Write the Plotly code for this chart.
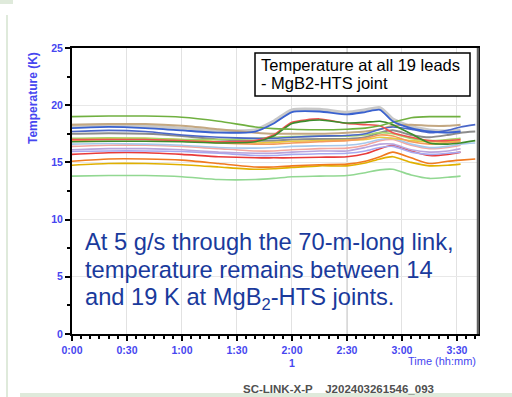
import plotly.graph_objects as go

# time in minutes
t = [0, 20, 40, 60, 80, 100, 110, 120, 135, 150, 160, 168, 175, 185, 195, 205, 212, 220]

s_gray_shadow = [18.2, 18.25, 18.2, 17.95, 17.75, 17.8, 18.55, 19.55, 19.6, 19.35, 19.55, 19.75, 18.75, 18.1, 17.8, 17.7, 17.8, None]
s_green_top = [19.0, 19.05, 19.05, 18.95, 18.6, 18.1, 17.95, 17.9, 17.85, 17.9, 18.0, 18.2, 18.5, 18.9, 19.0, 19.0, 19.0, None]
s_blue_peak = [18.0, 18.1, 18.0, 17.8, 17.6, 17.7, 18.4, 19.4, 19.45, 19.2, 19.4, 19.6, 18.6, 18.0, 17.7, 17.6, 17.7, None]
s_dark_green = [16.8, 16.85, 16.85, 16.8, 16.7, 16.8, 17.3, 18.4, 18.7, 18.45, 18.5, 18.6, 18.3, 17.5, 16.7, 16.6, 16.7, 16.9]
s_red_upper = [17.0, 17.0, 17.0, 16.9, 16.8, 16.9, 17.4, 18.5, 18.8, 18.4, 18.3, 18.2, 17.6, 17.2, 16.9, 16.9, 17.0, None]
s_olive = [17.1, 17.15, 17.1, 17.0, 17.0, 17.1, 17.2, 17.25, 17.3, 17.3, 17.4, 17.6, 17.5, 17.1, 16.9, 17.0, 17.1, None]
s_blue2 = [17.7, 17.8, 17.7, 17.4, 17.2, 17.1, 17.1, 17.2, 17.3, 17.35, 17.5, 17.9, 18.1, 17.9, 17.6, 17.8, 18.1, 18.3]
s_tan = [18.3, 18.35, 18.35, 18.2, 17.9, 17.6, 17.5, 17.5, 17.5, 17.6, 17.7, 17.9, 18.2, 18.3, 18.2, 18.2, 18.3, None]
s_gray = [17.5, 17.55, 17.5, 17.3, 17.0, 16.9, 16.9, 17.0, 17.05, 17.05, 17.2, 17.6, 17.8, 17.4, 17.2, 17.4, 17.6, 17.7]
s_orange_upper = [16.9, 17.0, 17.0, 16.9, 16.7, 16.6, 16.6, 16.7, 16.8, 16.9, 17.1, 17.4, 17.3, 16.8, 16.6, 16.7, 16.8, None]
s_yellow_upper = [17.05, 17.1, 17.1, 17.0, 16.8, 16.7, 16.75, 16.85, 16.9, 16.95, 17.0, 17.2, 17.1, 16.9, 16.8, 16.8, 16.9, None]
s_light_blue = [16.6, 16.65, 16.6, 16.5, 16.3, 16.25, 16.3, 16.4, 16.45, 16.5, 16.7, 17.0, 17.1, 16.6, 16.3, 16.4, 16.6, 16.7]
s_pink = [16.4, 16.5, 16.5, 16.4, 16.2, 16.0, 16.0, 16.1, 16.2, 16.25, 16.5, 16.9, 17.0, 16.5, 16.2, 16.3, 16.5, None]
s_lavender = [16.1, 16.2, 16.2, 16.1, 15.9, 15.8, 15.8, 15.9, 16.0, 16.0, 16.3, 16.6, 16.6, 16.1, 15.9, 16.0, 16.2, None]
s_light_purple = [15.95, 16.0, 16.0, 15.95, 15.8, 15.6, 15.6, 15.7, 15.75, 15.8, 16.0, 16.3, 16.4, 15.9, 15.7, 15.8, 15.9, None]
s_red = [15.7, 15.85, 15.85, 15.7, 15.5, 15.4, 15.4, 15.4, 15.45, 15.5, 15.75, 16.2, 16.5, 16.0, 15.6, 15.7, 15.9, None]
s_orange = [15.1, 15.3, 15.3, 15.2, 14.9, 14.6, 14.6, 14.7, 14.8, 14.85, 15.1, 15.5, 15.9, 15.4, 14.9, 15.1, 15.2, 15.3]
s_yellow = [14.75, 14.9, 14.9, 14.8, 14.6, 14.4, 14.45, 14.55, 14.7, 14.7, 14.95, 15.3, 15.5, 15.0, 14.7, 14.75, 14.85, None]
s_light_green = [13.8, 13.85, 13.85, 13.75, 13.5, 13.5, 13.6, 13.75, 13.8, 13.85, 14.1, 14.35, 14.4, 13.9, 13.6, 13.7, 13.8, None]

series = [
    (s_gray_shadow, "#c8c8c8", 4),
    (s_tan, "#c4a882", 2),
    (s_gray, "#8c8c8c", 2),
    (s_light_green, "#92d892", 1.6),
    (s_yellow, "#e0b000", 1.6),
    (s_orange, "#f07a20", 1.6),
    (s_red, "#e83a3a", 1.6),
    (s_light_purple, "#a8a8ee", 1.6),
    (s_lavender, "#b9a4dc", 1.6),
    (s_pink, "#f4a6a0", 1.6),
    (s_light_blue, "#a6c8ec", 1.6),
    (s_yellow_upper, "#e8c840", 1.6),
    (s_orange_upper, "#f59a5a", 1.6),
    (s_olive, "#a6d46a", 1.6),
    (s_blue2, "#4a66c8", 1.6),
    (s_red_upper, "#f05050", 1.6),
    (s_dark_green, "#3c8c2c", 1.6),
    (s_green_top, "#70b040", 1.6),
    (s_blue_peak, "#3a62d0", 1.8),
]

tick_vals = [0, 30, 60, 90, 120, 150, 180, 210]
tick_text = ["0:00", "0:30", "1:00", "1:30", "2:00<br>1", "2:30", "3:00", "3:30"]
y_ticks = [0, 5, 10, 15, 20, 25]

fig = go.Figure()
for vals, col, w in series:
    fig.add_trace(go.Scatter(x=t, y=vals, mode="lines", line=dict(color=col, width=w, shape="spline", smoothing=0.6),
                             showlegend=False, hoverinfo="skip", connectgaps=False))

tickfont = dict(family="Liberation Sans, Arial", size=10.5, color="#4646f0", weight="bold")

fig.update_layout(
    width=512, height=397,
    margin=dict(l=72, r=34, t=48, b=63),
    paper_bgcolor="white", plot_bgcolor="white",
    xaxis=dict(range=[0, 221.5], tickvals=tick_vals, ticktext=tick_text, tickfont=tickfont,
               showgrid=True, gridcolor="#e2e2e2", gridwidth=1, zeroline=False,
               showline=True, linecolor="black", linewidth=2, mirror=True,
               ticks="outside", ticklen=5, tickwidth=2, tickcolor="black",
               minor=dict(dtick=5, tick0=0, ticks="outside", ticklen=3, tickwidth=1.5, tickcolor="black", showgrid=False)),
    yaxis=dict(range=[0, 25], tickvals=y_ticks, tickfont=tickfont,
               showgrid=True, gridcolor="#e8e8e8", gridwidth=1, zeroline=False,
               showline=True, linecolor="black", linewidth=2, mirror=True,
               ticks="outside", ticklen=5, tickwidth=2, tickcolor="black",
               minor=dict(dtick=2.5, tick0=0, ticks="outside", ticklen=3, tickwidth=1.5, tickcolor="black", showgrid=False)),
    font=dict(family="Liberation Sans, Arial"),
)

# darker 2:30 gridline
fig.add_shape(type="line", xref="x", yref="y", x0=150, x1=150, y0=0, y1=25,
              line=dict(color="#a8a8a8", width=1), layer="below")
# right border grey
fig.add_shape(type="line", xref="paper", yref="paper", x0=1, x1=1, y0=0, y1=1,
              line=dict(color="#606060", width=2.5))

# legend box
fig.add_shape(type="rect", xref="paper", yref="paper",
              x0=(255 - 72) / 406, x1=(470 - 72) / 406, y0=(334 - 96) / 286, y1=(334 - 53) / 286,
              line=dict(color="black", width=1.5), fillcolor="white")

def px_x(x):
    return (x - 72) / 406

def px_y(y):
    return (334 - y) / 286

ann = []
ann.append(dict(x=px_x(259), y=px_y(65), text="Temperature at all 19 leads", xanchor="left", yanchor="middle",
                font=dict(family="Liberation Sans, Arial", size=16.5, color="black")))
ann.append(dict(x=px_x(259), y=px_y(83), text="- MgB2-HTS joint", xanchor="left", yanchor="middle",
                font=dict(family="Liberation Sans, Arial", size=16.5, color="black")))

big = dict(family="Liberation Sans, Arial", size=23.7, color="#1a3a9c")
ann.append(dict(x=px_x(83), y=px_y(242), text="At 5 g/s through the 70-m-long link,", xanchor="left", yanchor="middle", font=big))
ann.append(dict(x=px_x(83), y=px_y(270), text="temperature remains between 14", xanchor="left", yanchor="middle", font=big))
ann.append(dict(x=px_x(83), y=px_y(299), text="and 19 K at MgB<sub>2</sub>-HTS joints.", xanchor="left", yanchor="middle", font=big))

ann.append(dict(x=px_x(478), y=px_y(361), text="Time (hh:mm)", xanchor="right", yanchor="middle",
                font=dict(family="Liberation Sans, Arial", size=11, color="#4646f0")))
ann.append(dict(x=px_x(33), y=px_y(98), text="<b>Temperature (K)</b>", textangle=-90, xanchor="center", yanchor="middle",
                font=dict(family="Liberation Sans, Arial", size=12, color="#4646f0")))
ann.append(dict(x=px_x(241), y=px_y(389), text="<b>SC-LINK-X-P    J202403261546_093</b>", xanchor="left", yanchor="middle",
                font=dict(family="Liberation Sans, Arial", size=11.5, color="#505050")))

for a in ann:
    a.update(xref="paper", yref="paper", showarrow=False)
fig.update_layout(annotations=ann)

# slide frame decorations
fig.add_shape(type="line", xref="paper", yref="paper", x0=px_x(7), x1=px_x(7), y0=px_y(397), y1=px_y(15),
              line=dict(color="#dfeadb", width=2))
fig.add_shape(type="line", xref="paper", yref="paper", x0=px_x(20), x1=px_x(512), y0=px_y(395), y1=px_y(395),
              line=dict(color="#dfeadb", width=4))
fig.add_shape(type="rect", xref="paper", yref="paper", x0=px_x(0), x1=px_x(13), y0=px_y(4), y1=px_y(0),
              line=dict(width=0), fillcolor="#dfeadb")

fig.write_html("out.html")
